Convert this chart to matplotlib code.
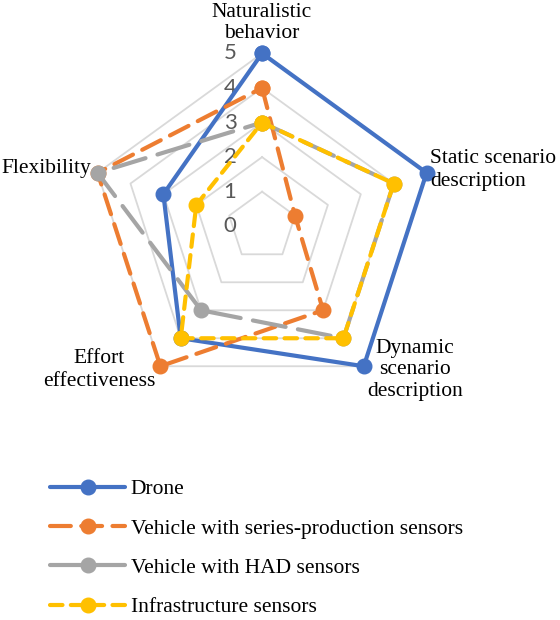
import numpy as np
import matplotlib.pyplot as plt
from matplotlib.transforms import ScaledTranslation

# axes of the radar, clockwise from the top
categories = ['Naturalistic\nbehavior', 'Static scenario\ndescription',
              'Dynamic\nscenario\ndescription', 'Effort\neffectiveness', 'Flexibility']
drone = [5, 5, 5, 4, 3]
series_prod = [4, 1, 3, 5, 5]
had = [3, 4, 4, 3, 5]
infra = [3, 4, 4, 4, 2]
labels = ['Drone', 'Vehicle with series-production sensors',
          'Vehicle with HAD sensors', 'Infrastructure sensors']
levels = [0, 1, 2, 3, 4, 5]

colors = ['#4472C4', '#ED7D31', '#A5A5A5', '#FFC000']
dashes = [None, (5, 2.5), (8, 3), (3, 2)]

n = len(categories)
theta = np.linspace(0, 2 * np.pi, n, endpoint=False)
closed = np.append(theta, theta[0])

fig = plt.figure(figsize=(5.6, 6.2), dpi=100)
ax = fig.add_axes([0.159, 0.356, 0.618, 0.558], projection='polar')
ax.set_theta_zero_location('N')
ax.set_theta_direction(-1)
ax.set_ylim(0, 5)
ax.grid(False)
ax.spines['polar'].set_visible(False)
ax.set_xticks([])
ax.set_yticks([])
ax.patch.set_alpha(0)

# pentagon grid
for lv in levels[1:]:
    ax.plot(closed, [lv] * (n + 1), color='#D9D9D9', lw=1.3, zorder=1)

# radial value labels, left of the top axis
shift = ax.transData + ScaledTranslation(-0.32, 0, fig.dpi_scale_trans)
for lv in levels:
    ax.text(0, lv, str(lv), color='#595959', fontsize=16, family='Lato',
            ha='center', va='center', zorder=2, transform=shift)

series = [drone, series_prod, had, infra]
for vals, c, d, lab in zip(series, colors, dashes, labels):
    v = np.append(vals, vals[0])
    line, = ax.plot(closed, v, color=c, lw=3, marker='o', markersize=10.5,
                    label=lab, zorder=3, clip_on=False,
                    solid_capstyle='round', dash_capstyle='round')
    if d is not None:
        line.set_dashes(d)

# category labels
font = dict(family='Liberation Serif', fontsize=15.5, color='black')
fig.text(262 / 560, 1 - 23 / 620, categories[0], ha='center', va='center', linespacing=1.2, **font)
fig.text(430 / 560, 1 - 170 / 620, categories[1], ha='left', va='center', linespacing=1.28, **font)
fig.text(415 / 560, 1 - 370 / 620, categories[2], ha='center', va='center', linespacing=1.2, **font)
fig.text(99 / 560, 1 - 370 / 620, categories[3], ha='center', va='center', linespacing=1.25, **font)
fig.text(91 / 560, 1 - 169 / 620, categories[4], ha='right', va='center', **font)

fig.legend(loc='upper left', bbox_to_anchor=(35 / 560, 1 - 464 / 620), frameon=False,
           prop={'family': 'Liberation Serif', 'size': 15.5}, handlelength=3.5,
           handletextpad=0.25, labelspacing=0.9, borderaxespad=0.3)

fig.savefig('out.png', dpi=100)
